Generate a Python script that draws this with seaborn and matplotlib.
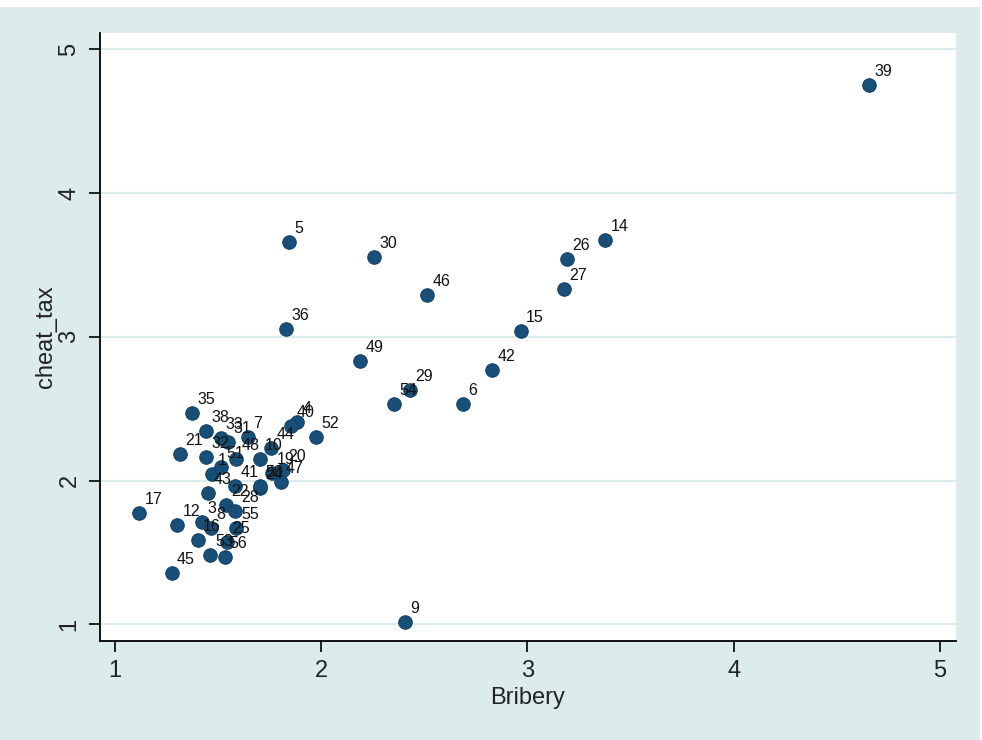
import matplotlib
matplotlib.use("Agg")
import matplotlib.pyplot as plt
import seaborn as sns
import pandas as pd
from matplotlib.patches import Rectangle

labels = ["1", "3", "4", "5", "6", "7", "8", "9", "10", "12", "14", "15", "16", "17",
          "19", "20", "21", "22", "24", "25", "26", "27", "28", "29", "30", "31", "32",
          "33", "35", "36", "38", "39", "40", "41", "42", "43", "44", "45", "46", "47",
          "48", "49", "50", "51", "52", "53", "54", "55", "56"]
bribery = [1.472, 1.423, 1.882, 1.844, 2.687, 1.645, 1.464, 2.406, 1.702, 1.302, 3.376,
           2.968, 1.402, 1.116, 1.759, 1.815, 1.314, 1.538, 1.703, 1.545, 3.192, 3.177,
           1.584, 2.430, 2.256, 1.550, 1.440, 1.512, 1.373, 1.829, 1.440, 4.656, 1.853,
           1.582, 2.828, 1.452, 1.758, 1.275, 2.513, 1.803, 1.588, 2.188, 1.702, 1.512,
           1.976, 1.461, 2.353, 1.585, 1.531]
cheat_tax = [2.043, 1.714, 2.405, 3.657, 2.530, 2.301, 1.668, 1.014, 2.148, 1.689, 3.671,
             3.038, 1.584, 1.772, 2.050, 2.075, 2.183, 1.828, 1.950, 1.574, 3.539, 3.330,
             1.786, 2.628, 3.553, 2.266, 2.164, 2.297, 2.468, 3.052, 2.345, 4.750, 2.377,
             1.962, 2.767, 1.911, 2.229, 1.355, 3.289, 1.991, 2.148, 2.830, 1.962, 2.094,
             2.303, 1.480, 2.530, 1.668, 1.466]
xticks = [1, 2, 3, 4, 5]
yticks = [1, 2, 3, 4, 5]

df = pd.DataFrame({"Bribery": bribery, "cheat_tax": cheat_tax, "label": labels})

sns.set_theme(style="white")
plt.rcParams["font.family"] = ["Liberation Sans", "DejaVu Sans"]

bg = "#DCECEC"
fig = plt.figure(figsize=(9.82, 7.4), dpi=100, facecolor="white")
fig.patches.append(Rectangle((0, 0), 980 / 982, 733 / 740, transform=fig.transFigure,
                             facecolor=bg, edgecolor="none", zorder=-10))
ax = fig.add_axes([100 / 982, (740 - 641) / 740, 856 / 982, 608 / 740])
ax.set_facecolor("white")

sns.scatterplot(data=df, x="Bribery", y="cheat_tax", ax=ax, s=95, color="#184F78",
                edgecolor="#0f3d60", linewidth=0.7, zorder=3)

for _, r in df.iterrows():
    ax.annotate(r["label"], (r["Bribery"], r["cheat_tax"]), xytext=(3.8, 9.8),
                textcoords="offset points", ha="left", va="center", fontsize=11.5,
                color="#111111", zorder=4)

ax.set_xlim(0.927, 5.078)
ax.set_ylim(0.884, 5.113)
ax.set_xticks(xticks)
ax.set_yticks(yticks)
ax.set_xticklabels([str(t) for t in xticks], fontsize=17)
ax.set_yticklabels([str(t) for t in yticks], fontsize=17, rotation=90, va="center")
ax.grid(axis="y", color=bg, linewidth=1.6, zorder=0)
ax.grid(axis="x", visible=False)
ax.set_axisbelow(True)
for side in ["top", "right"]:
    ax.spines[side].set_visible(False)
for side in ["left", "bottom"]:
    ax.spines[side].set_color("black")
    ax.spines[side].set_linewidth(1.3)
ax.tick_params(axis="both", direction="out", length=8, width=1.2, color="black",
               labelcolor="#222222", pad=6, left=True, bottom=True)
ax.set_xlabel("Bribery", fontsize=17, color="#222222", labelpad=3)
ax.set_ylabel("cheat_tax", fontsize=17, color="#222222", labelpad=1)

fig.savefig("out.png", dpi=100, facecolor=fig.get_facecolor())
